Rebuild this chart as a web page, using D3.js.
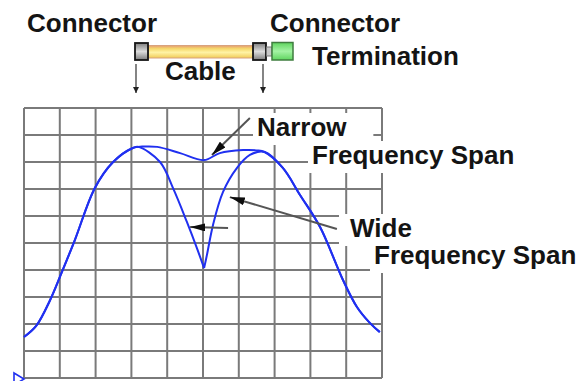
<!DOCTYPE html>
<html>
<head>
<meta charset="utf-8">
<script src="https://cdn.jsdelivr.net/npm/d3@7/dist/d3.min.js"></script>
<style>
  html, body { margin: 0; padding: 0; background: #fff; overflow: hidden; }
  text { font-family: "Liberation Sans", Arial, sans-serif; font-weight: bold; fill: #141414; }
</style>
</head>
<body>
<svg id="chart" width="585" height="381"></svg>
<script>
// Screen graticule: 10 x 10 divisions
const gridCols = d3.range(0, 11);
const gridRows = d3.range(0, 11);

// Trace measured with a narrow frequency span (division units)
const narrowX = [0, 0.34, 0.73, 1.06, 1.42, 1.98, 2.49, 3.04, 3.3, 3.72, 4.36, 5.03, 5.47, 6.12, 6.5, 6.72, 7.23, 7.71, 8.27, 8.91, 9.30, 9.66, 9.94];
const narrowY = [1.52, 1.93, 2.89, 3.93, 5.11, 7.04, 8.0, 8.52, 8.57, 8.56, 8.33, 8.07, 8.33, 8.44, 8.43, 8.37, 7.78, 6.78, 5.59, 3.63, 2.63, 2.04, 1.70];

// Trace measured with a wide frequency span (notch at the index below)
const wideX = [0, 0.34, 0.73, 1.06, 1.42, 1.98, 2.49, 3.04, 3.2, 3.80, 4.16, 4.55, 4.83, 5.03, 5.11, 5.28, 5.56, 5.95, 6.31, 6.72, 7.23, 7.71, 8.27, 8.91, 9.30, 9.66, 9.94];
const wideY = [1.52, 1.93, 2.89, 3.93, 5.11, 7.04, 8.0, 8.52, 8.56, 8.0, 7.04, 5.78, 4.81, 4.07, 4.56, 5.67, 6.89, 7.78, 8.26, 8.37, 7.78, 6.78, 5.59, 3.63, 2.63, 2.04, 1.70];
const wideNotch = 13;

// Annotation text
const labelTexts = ["Connector", "Connector", "Cable", "Termination", "Narrow", "Frequency Span", "Wide", "Frequency Span"];

// Annotation arrows in division units: [fromX, fromY, toX, toY]
const narrowArrow = [6.31, 9.63, 5.25, 8.26];
const wideArrows = [[8.74, 5.52, 5.75, 6.70], [5.70, 5.56, 4.64, 5.59]];

const svg = d3.select("#chart");
const x = d3.scaleLinear().domain([0, 10]).range([24, 382]);
const y = d3.scaleLinear().domain([0, 10]).range([378, 108]);

const defs = svg.append("defs");
defs.append("marker")
  .attr("id", "head").attr("viewBox", "0 0 15 8")
  .attr("refX", 15).attr("refY", 4)
  .attr("markerWidth", 15).attr("markerHeight", 8)
  .attr("markerUnits", "userSpaceOnUse").attr("orient", "auto")
  .append("path").attr("d", "M0,0 L15,4 L0,8 Z").attr("fill", "#0d0d0d");
defs.append("marker")
  .attr("id", "smallHead").attr("viewBox", "0 0 6 6")
  .attr("refX", 6).attr("refY", 3)
  .attr("markerWidth", 6).attr("markerHeight", 6)
  .attr("markerUnits", "userSpaceOnUse").attr("orient", "auto")
  .append("path").attr("d", "M0,0 L6,3 L0,6 Z").attr("fill", "#222");

function vGrad(id, stops) {
  const g = defs.append("linearGradient").attr("id", id)
    .attr("x1", 0).attr("y1", 0).attr("x2", 0).attr("y2", 1);
  stops.forEach(([o, c]) => g.append("stop").attr("offset", o).attr("stop-color", c));
}
vGrad("connGrad", [[0, "#7d7d7d"], [0.5, "#dcdcdc"], [1, "#7d7d7d"]]);
vGrad("cableGrad", [[0, "#e49a74"], [0.25, "#f5d86a"], [0.55, "#fff3a6"], [1, "#f0cc58"]]);
vGrad("termGrad", [[0, "#5fd55f"], [0.5, "#a4f3a4"], [1, "#5fd55f"]]);

// Graticule
const grid = svg.append("g").attr("stroke", "#7a7a7a").attr("stroke-width", 2);
grid.selectAll("line.v").data(gridCols).join("line").attr("class", "v")
  .attr("x1", d => x(d)).attr("x2", d => x(d))
  .attr("y1", y(0)).attr("y2", y(10));
grid.selectAll("line.h").data(gridRows).join("line").attr("class", "h")
  .attr("y1", d => y(d)).attr("y2", d => y(d))
  .attr("x1", x(0)).attr("x2", x(10));

const boxLayer = svg.append("g");
const traceLayer = svg.append("g");
const arrowLayer = svg.append("g");
const textLayer = svg.append("g");

// Traces
const line = d3.line().x(d => x(d[0])).y(d => y(d[1])).curve(d3.curveCatmullRom.alpha(0.5));
const narrowPts = narrowX.map((v, i) => [v, narrowY[i]]);
const widePts = wideX.map((v, i) => [v, wideY[i]]);
const traces = [narrowPts, widePts.slice(0, wideNotch + 1), widePts.slice(wideNotch)];
traceLayer.selectAll("path").data(traces).join("path")
  .attr("d", line).attr("fill", "none")
  .attr("stroke", "#2030f0").attr("stroke-width", 2).attr("stroke-linejoin", "round");

// Trace start marker
traceLayer.append("path")
  .attr("d", `M${x(0) - 10},${y(0) - 5} L${x(0)},${y(0) + 1} L${x(0) - 10},${y(0) + 7} Z`)
  .attr("fill", "#fff").attr("stroke", "#2030f0").attr("stroke-width", 1.6);

// Arrows
arrowLayer.append("line")
  .attr("x1", x(narrowArrow[0])).attr("y1", y(narrowArrow[1]))
  .attr("x2", x(narrowArrow[2])).attr("y2", y(narrowArrow[3]))
  .attr("stroke", "#555").attr("stroke-width", 2).attr("marker-end", "url(#head)");
arrowLayer.selectAll("line.w").data(wideArrows).join("line").attr("class", "w")
  .attr("x1", d => x(d[0])).attr("y1", d => y(d[1]))
  .attr("x2", d => x(d[2])).attr("y2", d => y(d[3]))
  .attr("stroke", "#555").attr("stroke-width", 2).attr("marker-end", "url(#head)");

// Cable assembly
const cab = svg.append("g");
cab.append("rect").attr("x", 148).attr("y", 45.5).attr("width", 106).attr("height", 12.5)
  .attr("fill", "url(#cableGrad)").attr("stroke", "#d8a27e").attr("stroke-width", 1);
cab.selectAll("rect.conn").data([135, 253]).join("rect").attr("class", "conn")
  .attr("x", d => d).attr("y", 43).attr("width", 13).attr("height", 17)
  .attr("fill", "url(#connGrad)").attr("stroke", "#151515").attr("stroke-width", 1.8);
cab.append("rect").attr("x", 266.5).attr("y", 47).attr("width", 5.5).attr("height", 9)
  .attr("fill", "#c8c8c8").attr("stroke", "#777").attr("stroke-width", 1);
cab.append("rect").attr("x", 272).attr("y", 42.5).attr("width", 21).attr("height", 17.5)
  .attr("fill", "url(#termGrad)").attr("stroke", "#3f7d3f").attr("stroke-width", 1.5);
cab.selectAll("line.drop").data([136, 263]).join("line").attr("class", "drop")
  .attr("x1", d => d).attr("x2", d => d).attr("y1", 64).attr("y2", 93)
  .attr("stroke", "#333").attr("stroke-width", 1.2).attr("marker-end", "url(#smallHead)");

// Labels: start x, baseline y, and white backing box padding [left, right] (null = no box)
const labelPos = [[27, 32, null], [270, 32, null], [165, 80, null], [312, 65, null],
                  [257, 136, [4, 26]], [312, 164, [4, 4]], [350, 237, [11, 4]], [374, 264, [4, 4]]];
labelTexts.forEach((t, i) => {
  const [lx, ly, pad] = labelPos[i];
  const el = textLayer.append("text").attr("x", lx).attr("y", ly)
    .attr("font-size", 26).text(t);
  if (pad) {
    const b = el.node().getBBox();
    boxLayer.append("rect")
      .attr("x", b.x - pad[0]).attr("y", b.y + 1)
      .attr("width", b.width + pad[0] + pad[1]).attr("height", b.height + 2)
      .attr("fill", "#fff");
  }
});
</script>
</body>
</html>
